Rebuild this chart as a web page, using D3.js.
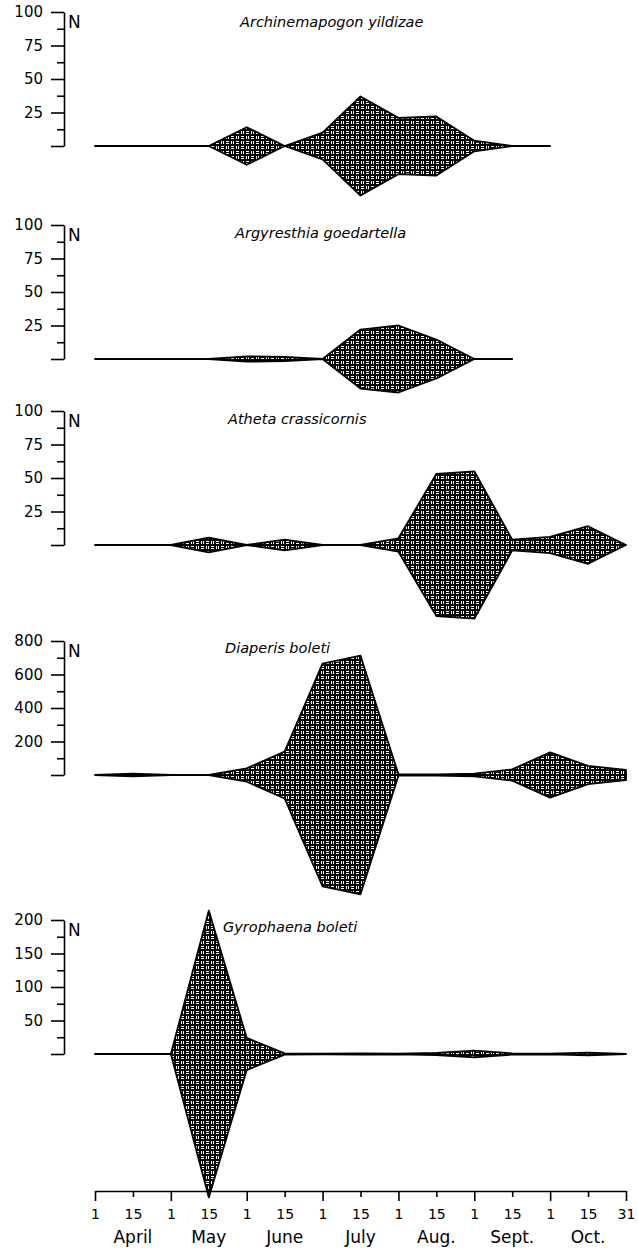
<!DOCTYPE html>
<html><head><meta charset="utf-8">
<script src="https://cdn.jsdelivr.net/npm/d3@7"></script>
<style>
html,body{margin:0;padding:0;background:#fff;}
svg{display:block;}
</style></head>
<body>
<svg id="chart" width="638" height="1250"></svg>
<script>
// ---- data ----
const dates = ["1 Apr","15 Apr","1 May","15 May","1 Jun","15 Jun","1 Jul","15 Jul","1 Aug","15 Aug","1 Sep","15 Sep","1 Oct","15 Oct","31 Oct"];
const dayLabels = ["1","15","1","15","1","15","1","15","1","15","1","15","1","15","31"];
const months = ["April","May","June","July","Aug.","Sept.","Oct."];
const species = ["Archinemapogon yildizae","Argyresthia goedartella","Atheta crassicornis","Diaperis boleti","Gyrophaena boleti"];
const yMaxima = [100,100,100,800,200];
const ticks100 = [25,50,75,100];
const ticks800 = [200,400,600,800];
const ticks200 = [50,100,150,200];
const archinemapogon = [0,0,0,0,14,0,10,37,21,22,4,0,0,null,null];
const argyresthia = [0,0,0,0,2,1.5,0,22,25,14.5,0,0,null,null,null];
const atheta = [0,0,0,5.5,0,4,0,0,5,53,55,4,6,14,0];
const diaperis = [0,8,0,0,40,140,665,712,4,3,8,34,135,54,30];
const gyrophaena = [0,0,0,214,24,1,0.5,1,0.5,1.5,5,1,0.5,2,0];

const seriesList = [archinemapogon, argyresthia, atheta, diaperis, gyrophaena];
const tickList = [ticks100, ticks100, ticks100, ticks800, ticks200];

// ---- layout ----
const baselines = [146, 359, 545, 775, 1054];
const axisLen = 134;
const axisX = 64;
const titleX = [240, 235, 228, 225, 223];
const titleDy = [15, 13, 13, 12, 12];
const xAxisY = 1191;
const font = "'DejaVu Sans', sans-serif";

const svg = d3.select("#chart");
const defs = svg.append("defs");
const pat = defs.append("pattern").attr("id","weave")
  .attr("width",10).attr("height",10).attr("patternUnits","userSpaceOnUse");
pat.append("rect").attr("width",10).attr("height",10).attr("fill","#000");
pat.append("path")
  .attr("d","M1.5,1V4M3.5,1V4M6,1.5H9M6,3.5H9M1,6.5H4M1,8.5H4M6.5,6V9M8.5,6V9")
  .attr("stroke","#fff").attr("stroke-width",1).attr("fill","none");

const x = d3.scalePoint().domain(dates).range([95, 626]);

seriesList.forEach((vals, p) => {
  const base = baselines[p];
  const maxV = yMaxima[p];
  const half = d3.scaleLinear().domain([0, maxV]).range([0, axisLen]);
  const yAx = d3.scaleLinear().domain([0, maxV]).range([base, base - axisLen]);
  const g = svg.append("g");

  const major = g.append("g").attr("transform", `translate(${axisX},0)`)
    .call(d3.axisLeft(yAx).tickValues([0, ...tickList[p]]).tickSize(13).tickSizeOuter(0).tickPadding(8)
      .tickFormat(d => d === 0 ? "" : d));
  const step = tickList[p][0];
  const minorVals = tickList[p].map(t => t - step / 2);
  g.append("g").attr("transform", `translate(${axisX},0)`)
    .call(d3.axisLeft(yAx).tickValues(minorVals).tickSize(7).tickSizeOuter(0).tickFormat(""))
    .select(".domain").remove();
  g.selectAll(".tick line, .domain").attr("stroke","#000").attr("stroke-width",1.6);
  major.selectAll("text").attr("font-family", font).attr("font-size", 15).attr("fill","#000");

  g.append("text").attr("x", axisX + 4).attr("y", base - axisLen + 16)
    .attr("font-family", font).attr("font-size", 17).text("N");

  g.append("text").attr("x", titleX[p]).attr("y", base - axisLen + titleDy[p])
    .attr("font-family", font).attr("font-size", 14.5).attr("font-style","italic")
    .text(species[p]);

  const pts = dates.map((d, i) => ({date: d, v: vals[i]}));
  const area = d3.area().defined(d => d.v != null)
    .x(d => x(d.date))
    .y0(d => base + half(d.v))
    .y1(d => base - half(d.v));
  g.append("path").datum(pts).attr("d", area)
    .attr("fill","url(#weave)").attr("stroke","#000").attr("stroke-width",1.8)
    .attr("stroke-linejoin","round");
});

// x axis
const xg = svg.append("g").attr("transform", `translate(0,${xAxisY})`)
  .call(d3.axisBottom(x).tickSize(10).tickSizeOuter(0).tickPadding(8)
    .tickFormat((d, i) => dayLabels[i]));
xg.selectAll(".tick line").attr("stroke","#000").attr("stroke-width",1.6)
  .attr("y2", (d, i) => i % 2 === 0 ? 10 : 6);
xg.select(".domain").attr("stroke","#000").attr("stroke-width",1.6);
xg.selectAll("text").attr("font-family", font).attr("font-size", 14).attr("fill","#000");

svg.append("g").selectAll("text").data(months).join("text")
  .attr("x", (m, i) => x(dates[2 * i + 1]))
  .attr("y", 1243)
  .attr("text-anchor","middle")
  .attr("font-family", font).attr("font-size", 17)
  .text(m => m);
</script>
</body></html>
